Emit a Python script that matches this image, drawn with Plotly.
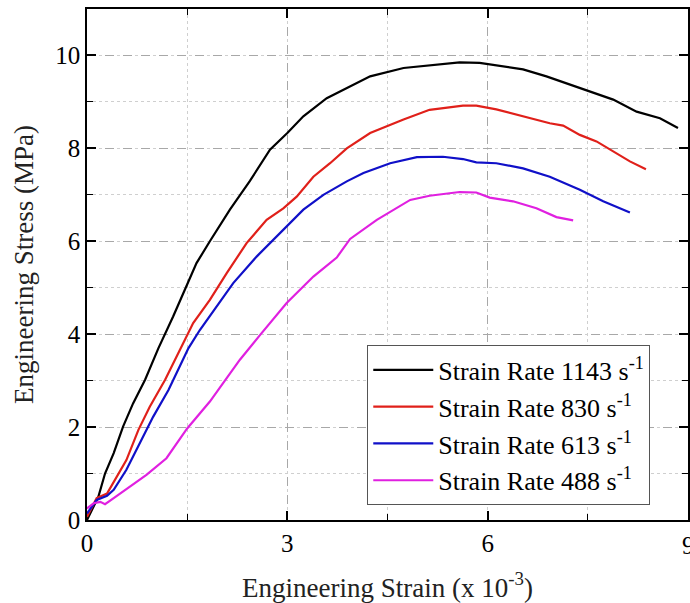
import plotly.graph_objects as go

# Data
strain_1143 = [0, 0.1, 0.17, 0.27, 0.40, 0.54, 0.69, 0.87, 1.07, 1.29, 1.49, 1.64, 1.84, 2.14, 2.44, 2.74,
               3.0, 3.24, 3.59, 3.89, 4.24, 4.74, 5.13, 5.58, 5.88, 6.13, 6.53, 6.88, 7.38, 7.88, 8.23, 8.58, 8.85]
stress_1143 = [0, 0.29, 0.50, 1.0, 1.44, 2.01, 2.51, 3.02, 3.70, 4.38, 5.02, 5.53, 6.0, 6.68, 7.3, 7.97,
               8.33, 8.69, 9.08, 9.30, 9.55, 9.73, 9.78, 9.85, 9.84, 9.79, 9.70, 9.55, 9.30, 9.05, 8.79, 8.65, 8.44]

strain_830 = [0, 0.145, 0.3, 0.44, 0.59, 0.77, 0.94, 1.17, 1.42, 1.59, 1.84, 2.09, 2.39, 2.69, 2.94, 3.14,
              3.39, 3.64, 3.89, 4.24, 4.74, 5.13, 5.63, 5.83, 6.13, 6.53, 6.93, 7.13, 7.38, 7.63, 7.93, 8.13, 8.37]
stress_830 = [0.07, 0.47, 0.57, 0.93, 1.29, 1.94, 2.44, 3.02, 3.73, 4.24, 4.74, 5.31, 5.96, 6.46, 6.71, 6.96,
              7.39, 7.68, 8.0, 8.33, 8.62, 8.83, 8.92, 8.92, 8.84, 8.69, 8.54, 8.49, 8.29, 8.15, 7.90, 7.72, 7.55]

strain_613 = [0, 0.145, 0.3, 0.4, 0.59, 0.79, 0.99, 1.22, 1.52, 1.69, 1.94, 2.19, 2.54, 2.94, 3.24, 3.54,
              3.89, 4.14, 4.54, 4.94, 5.33, 5.63, 5.83, 6.13, 6.53, 6.93, 7.38, 7.73, 8.13]
stress_613 = [0.14, 0.43, 0.52, 0.65, 1.08, 1.65, 2.22, 2.80, 3.70, 4.09, 4.59, 5.10, 5.67, 6.25, 6.68, 7.0,
              7.29, 7.47, 7.68, 7.81, 7.82, 7.77, 7.70, 7.68, 7.57, 7.39, 7.11, 6.86, 6.62]

strain_488 = [0, 0.1, 0.2, 0.27, 0.40, 0.65, 0.89, 1.19, 1.50, 1.84, 2.29, 2.59, 2.99, 3.39, 3.74, 3.94,
              4.34, 4.84, 5.13, 5.58, 5.83, 6.03, 6.38, 6.73, 7.03, 7.28]
stress_488 = [0.25, 0.36, 0.39, 0.34, 0.47, 0.72, 0.97, 1.33, 1.97, 2.55, 3.45, 3.98, 4.67, 5.24, 5.65, 6.05,
              6.46, 6.89, 6.98, 7.06, 7.05, 6.94, 6.86, 6.71, 6.52, 6.45]

series_names = ["Strain Rate 1143 s<sup>-1</sup>", "Strain Rate 830 s<sup>-1</sup>",
                "Strain Rate 613 s<sup>-1</sup>", "Strain Rate 488 s<sup>-1</sup>"]
series_colors = ["#000000", "#e0201a", "#1010c8", "#e020e0"]

x_ticks = [0, 3, 6, 9]
x_ticklabels = ["0", "3", "6", "9"]
y_ticks = [0, 2, 4, 6, 8, 10]
y_ticklabels = ["0", "2", "4", "6", "8", "10"]

FONT = "Liberation Serif, Times New Roman, serif"

fig = go.Figure()
for xs, ys, name, col in zip([strain_1143, strain_830, strain_613, strain_488],
                             [stress_1143, stress_830, stress_613, stress_488],
                             series_names, series_colors):
    fig.add_trace(go.Scatter(x=xs, y=ys, mode="lines", name=name,
                             line=dict(color=col, width=2.2)))

axis_common = dict(
    showline=True, linecolor="black", linewidth=1.6, mirror="allticks",
    ticks="inside", ticklen=9, tickwidth=1.6, tickcolor="black",
    showgrid=True, gridcolor="#a8a8a8", gridwidth=1, griddash="dash",
    zeroline=False, automargin=False,
    tickfont=dict(family=FONT, size=25, color="black"),
)

# last x tick label (9) drawn as annotation so it is cut by the page edge like the reference
x_ticktext_axis = x_ticklabels[:-1] + [""]

fig.update_xaxes(
    range=[0, 9], tickvals=x_ticks, ticktext=x_ticktext_axis,
    title=dict(text="Engineering Strain (x 10<sup>-3</sup>)", font=dict(family=FONT, size=27, color="#222"),
               standoff=22),
    minor=dict(dtick=1.5, tick0=0, ticks="inside", ticklen=6, tickcolor="black", tickwidth=1.2,
               showgrid=True, gridcolor="#cfcfcf", griddash="dot", gridwidth=1),
    **axis_common,
)
fig.update_yaxes(
    range=[0, 11], tickvals=y_ticks, ticktext=y_ticklabels,
    title=dict(text="Engineering Stress (MPa)", font=dict(family=FONT, size=27, color="#222"),
               standoff=14),
    minor=dict(dtick=1, tick0=0, ticks="inside", ticklen=6, tickcolor="black", tickwidth=1.2,
               showgrid=True, gridcolor="#cfcfcf", griddash="dot", gridwidth=1),
    **axis_common,
)

fig.add_annotation(x=x_ticks[-1], y=0, xref="x", yref="paper", text=x_ticklabels[-1],
                   showarrow=False, xanchor="center", yanchor="top", yshift=-10,
                   font=dict(family=FONT, size=25, color="black"))

fig.update_layout(
    width=690, height=603,
    margin=dict(l=87, r=2, t=9, b=83),
    paper_bgcolor="white", plot_bgcolor="white",
    font=dict(family=FONT, color="black"),
    legend=dict(
        x=0.466, y=0.342, xanchor="left", yanchor="top",
        bgcolor="white", bordercolor="#555", borderwidth=1.2,
        font=dict(family=FONT, size=26, color="black"),
        itemwidth=60, tracegroupgap=0,
    ),
    showlegend=True,
)

fig.write_html("out.html", config={"displayModeBar": False},
               post_script="document.body.style.margin='0px';")
